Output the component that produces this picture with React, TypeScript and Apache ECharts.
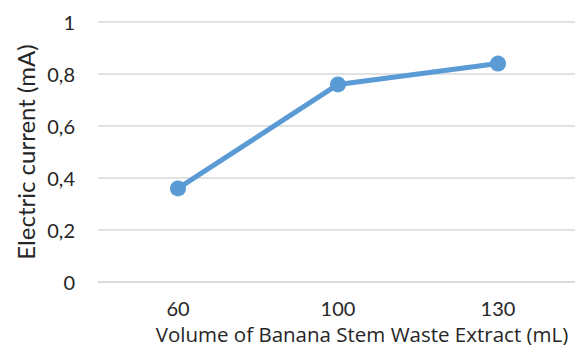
import React, { useEffect, useRef } from "react";
import * as echarts from "echarts";

const categories = ["60", "100", "130"];
const currentValues = [0.36, 0.76, 0.84];
const yTicks = { min: 0, max: 1, interval: 0.2 };
const xTitle = "Volume of Banana Stem Waste Extract (mL)";
const yTitle = "Electric current (mA)";

export default function App() {
  const ref = useRef<HTMLDivElement>(null);
  useEffect(() => {
    if (!ref.current) return;
    const chart = echarts.init(ref.current, null, { renderer: "svg" });
    const font = "Lato, 'Open Sans', sans-serif";
    chart.setOption({
      animation: false,
      backgroundColor: "#ffffff",
      grid: { left: 98, top: 22, width: 480, height: 260, containLabel: false, outerBoundsMode: "none" },
      xAxis: {
        type: "category",
        data: categories,
        boundaryGap: true,
        name: xTitle,
        nameLocation: "middle",
        nameGap: 41,
        nameMoveOverlap: false,
        nameTextStyle: {
          fontFamily: "'Open Sans', Lato, sans-serif",
          fontSize: 20.5,
          lineHeight: 21,
          color: "#262626",
          padding: [0, 0, 0, 48],
        },
        axisLine: { show: true, lineStyle: { color: "#d9d9d9", width: 1.5 } },
        axisTick: { show: false },
        axisLabel: { fontFamily: font, fontSize: 20, lineHeight: 18, color: "#262626", margin: 17 },
        splitLine: { show: false },
      },
      yAxis: {
        type: "value",
        min: yTicks.min,
        max: yTicks.max,
        interval: yTicks.interval,
        name: yTitle,
        nameLocation: "middle",
        nameGap: 60,
        nameMoveOverlap: false,
        nameTextStyle: { fontFamily: font, fontSize: 24, lineHeight: 26, color: "#262626" },
        axisLine: { show: false },
        axisTick: { show: false },
        axisLabel: {
          fontFamily: font,
          fontSize: 20,
          color: "#262626",
          margin: 23,
          formatter: (v: number) => String(Math.round(v * 10) / 10).replace(".", ","),
        },
        splitLine: { show: true, lineStyle: { color: "#d9d9d9", width: 1.5 } },
      },
      series: [
        {
          type: "line",
          data: currentValues,
          symbol: "circle",
          symbolSize: 16,
          itemStyle: { color: "#5b9bd5" },
          lineStyle: { color: "#5b9bd5", width: 5 },
        },
      ],
    });
    return () => chart.dispose();
  }, []);
  return (
    <div
      ref={ref}
      style={{ position: "absolute", left: 0, top: 0, width: 575, height: 345 }}
    />
  );
}
